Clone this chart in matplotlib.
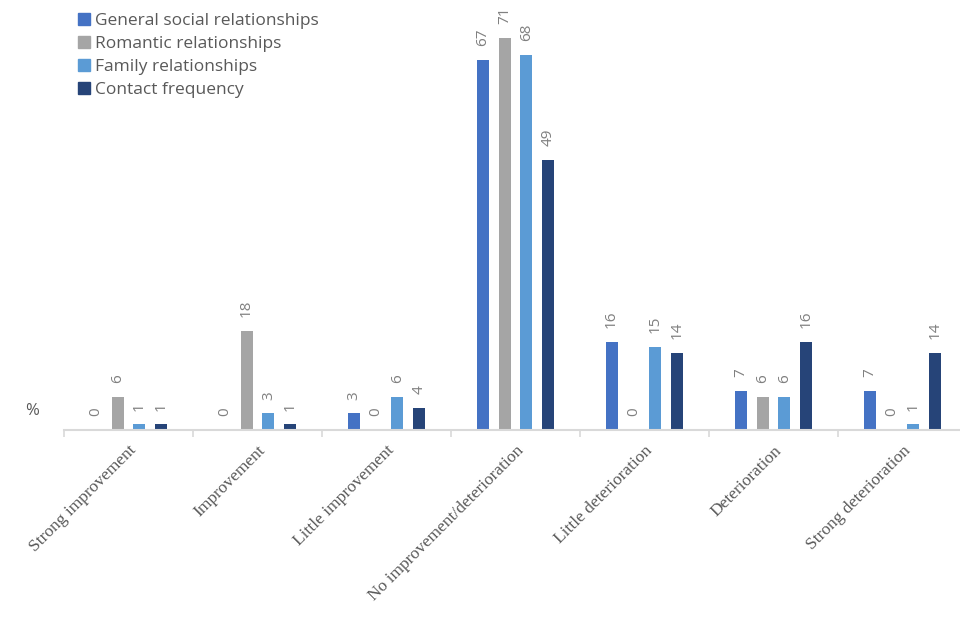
import matplotlib
matplotlib.use("Agg")
import matplotlib.pyplot as plt
from matplotlib.patches import Patch
import numpy as np

# Datos
categorias = ['Strong improvement', 'Improvement', 'Little improvement',
              'No improvement/deterioration', 'Little deterioration',
              'Deterioration', 'Strong deterioration']
series = ['General social relationships', 'Romantic relationships',
          'Family relationships', 'Contact frequency']
general = [0, 0, 3, 67, 16, 7, 7]
romantic = [6, 18, 0, 71, 0, 6, 0]
family = [1, 3, 6, 68, 15, 6, 1]
contact = [1, 1, 4, 49, 14, 16, 14]
colores = ['#4472C4', '#A5A5A5', '#5B9BD5', '#264478']

fig = plt.figure(figsize=(9.6, 6.35), dpi=100)
ax = fig.add_axes([64 / 960, 205 / 635, 903 / 960, 414 / 635])

x = np.arange(len(categorias))
ancho = 0.093
paso = 0.17
for k, (vals, col) in enumerate(zip([general, romantic, family, contact], colores)):
    pos = x + (k - 1.5) * paso
    ax.bar(pos, vals, width=ancho, color=col)
    for px, v in zip(pos, vals):
        ax.annotate(str(v), (px, v), xytext=(0, 10), textcoords='offset points',
                    rotation=90, ha='center', va='bottom', fontsize=11,
                    color='#808080', family='Open Sans', annotation_clip=False)

ax.set_xlim(-0.5, len(categorias) - 0.5)
ax.set_ylim(0, 75)
ax.set_yticks([])
for s in ['top', 'right', 'left']:
    ax.spines[s].set_visible(False)
ax.spines['bottom'].set_color('#d9d9d9')
ax.spines['bottom'].set_linewidth(1.5)

# marcas entre grupos
ax.set_xticks(np.arange(len(categorias) + 1) - 0.5, minor=True)
ax.tick_params(axis='x', which='minor', length=5, color='#d9d9d9', width=1.2)
ax.set_xticks(x)
ax.tick_params(axis='x', which='major', length=0, pad=9)
ax.set_xticklabels(categorias, rotation=45, ha='right', rotation_mode='anchor',
                   fontsize=12.5, family='Liberation Serif', color='#595959')

fig.text(32 / 960, 1 - 411 / 635, '%', fontsize=12, color='#595959',
         family='Open Sans', ha='center', va='center')

handles = [Patch(color=c) for c in colores]
fig.legend(handles, series, loc='upper left', bbox_to_anchor=(71 / 960, 1 - 6 / 635),
           frameon=False, handlelength=0.7, handleheight=0.7,
           handletextpad=0.3, labelspacing=0.4, borderaxespad=0,
           prop={'family': 'Open Sans', 'size': 12.5}, labelcolor='#595959')

plt.savefig('out.png', dpi=100)
